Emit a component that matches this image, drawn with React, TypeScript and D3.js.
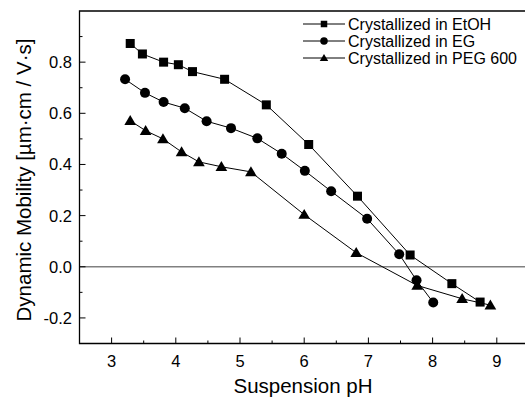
import React, { useEffect, useRef } from 'react';
import * as d3 from 'd3';

// Suspension pH / dynamic mobility
const etohPH = [3.29, 3.48, 3.81, 4.04, 4.26, 4.76, 5.41, 6.07, 6.83, 7.65, 8.30, 8.74];
const etohMob = [0.873, 0.832, 0.80, 0.79, 0.763, 0.733, 0.633, 0.478, 0.276, 0.046, -0.066, -0.138];

const egPH = [3.21, 3.52, 3.81, 4.14, 4.48, 4.86, 5.27, 5.65, 6.01, 6.42, 6.98, 7.48, 7.75, 8.01];
const egMob = [0.733, 0.68, 0.644, 0.62, 0.569, 0.542, 0.502, 0.442, 0.375, 0.295, 0.188, 0.049, -0.053, -0.14];

const pegPH = [3.29, 3.53, 3.80, 4.09, 4.36, 4.71, 5.17, 6.0, 6.81, 7.76, 8.46, 8.90];
const pegMob = [0.571, 0.532, 0.50, 0.449, 0.41, 0.391, 0.371, 0.204, 0.055, -0.073, -0.125, -0.15];

const seriesNames = ['Crystallized in EtOH', 'Crystallized in EG', 'Crystallized in PEG 600'];
const xTicks = [3, 4, 5, 6, 7, 8, 9];
const yTicks = [-0.2, 0.0, 0.2, 0.4, 0.6, 0.8];

const W = 525;
const H = 403;
const FONT = 'Liberation Sans, Arial, Helvetica, sans-serif';

export default function App() {
  const svgRef = useRef<SVGSVGElement>(null);

  useEffect(() => {
    if (!svgRef.current) return;
    const svg = d3.select(svgRef.current);
    svg.selectAll('*').remove();

    const left = 79.5;
    const top = 11;
    const bottom = 343.5;
    const x = d3.scaleLinear().domain([2.5, 9.5]).range([left, left + 7 * 64.2]);
    const y = d3.scaleLinear().domain([-0.3, 1.0]).range([bottom, top]);

    const g = svg.append('g');

    // zero line
    g.append('line')
      .attr('x1', left).attr('x2', W)
      .attr('y1', y(0)).attr('y2', y(0))
      .attr('stroke', '#808080').attr('stroke-width', 1.5);

    // frame (right side falls outside the picture)
    g.append('path')
      .attr('d', `M${W + 2},${top}H${left}V${bottom}H${W + 2}`)
      .attr('fill', 'none').attr('stroke', '#000').attr('stroke-width', 1.3);

    // x ticks (inward)
    d3.range(3, 9.51, 0.5).forEach(v => {
      const major = Number.isInteger(v);
      g.append('line')
        .attr('x1', x(v)).attr('x2', x(v))
        .attr('y1', bottom).attr('y2', bottom - (major ? 6 : 3))
        .attr('stroke', '#000').attr('stroke-width', 1);
    });
    g.selectAll('.xt').data(xTicks).enter().append('text')
      .attr('x', d => x(d)).attr('y', 367)
      .attr('text-anchor', 'middle')
      .attr('font-family', FONT).attr('font-size', 16.5)
      .text(d => String(d));

    // y ticks (inward)
    d3.range(-0.2, 0.951, 0.1).forEach(v => {
      const major = Math.abs(Math.round(v * 10) % 2) === 0;
      g.append('line')
        .attr('x1', left).attr('x2', left + (major ? 6 : 3))
        .attr('y1', y(v)).attr('y2', y(v))
        .attr('stroke', '#000').attr('stroke-width', 1);
    });
    g.selectAll('.yt').data(yTicks).enter().append('text')
      .attr('x', 72).attr('y', d => y(d))
      .attr('dy', '0.36em')
      .attr('text-anchor', 'end')
      .attr('font-family', FONT).attr('font-size', 16.5)
      .text(d => d.toFixed(1));

    // axis titles
    g.append('text')
      .attr('x', 303).attr('y', 393)
      .attr('text-anchor', 'middle')
      .attr('font-family', FONT).attr('font-size', 20.5)
      .text('Suspension pH');
    g.append('text')
      .attr('transform', `translate(31,180) rotate(-90)`)
      .attr('text-anchor', 'middle')
      .attr('font-family', FONT).attr('font-size', 20.5)
      .text('Dynamic Mobility [µm·cm / V·s]');

    const line = d3.line<[number, number]>().x(d => x(d[0])).y(d => y(d[1]));
    const sets: [number[], number[]][] = [[etohPH, etohMob], [egPH, egMob], [pegPH, pegMob]];
    const plot = svg.append('g');

    const drawMarker = (sel: any, kind: number, cx: number, cy: number, s: number) => {
      if (kind === 0) {
        sel.append('rect').attr('x', cx - s / 2).attr('y', cy - s / 2).attr('width', s).attr('height', s).attr('fill', '#000');
      } else if (kind === 1) {
        sel.append('circle').attr('cx', cx).attr('cy', cy).attr('r', s / 2 + 0.5).attr('fill', '#000');
      } else {
        const h = s * 1.05;
        const w = s * 1.3;
        sel.append('path')
          .attr('d', `M${cx},${cy - h * 0.6}L${cx + w / 2},${cy + h * 0.45}L${cx - w / 2},${cy + h * 0.45}Z`)
          .attr('fill', '#000');
      }
    };

    sets.forEach(([xs, ys], k) => {
      const pts = xs.map((v, i) => [v, ys[i]] as [number, number]);
      plot.append('path').datum(pts)
        .attr('d', line)
        .attr('fill', 'none').attr('stroke', '#000').attr('stroke-width', 1);
      const mg = plot.append('g');
      pts.forEach(p => drawMarker(mg, k, x(p[0]), y(p[1]), 9));
    });

    // legend
    const lg = svg.append('g');
    seriesNames.forEach((name, i) => {
      const cy = 24 + i * 17;
      lg.append('line').attr('x1', 303).attr('x2', 345).attr('y1', cy).attr('y2', cy)
        .attr('stroke', '#000').attr('stroke-width', 1);
      drawMarker(lg, i, 324, cy, 6.5);
      lg.append('text')
        .attr('x', 348).attr('y', cy).attr('dy', '0.36em')
        .attr('font-family', FONT).attr('font-size', 16)
        .text(name);
    });
  }, []);

  return (
    <svg
      ref={svgRef}
      width={W}
      height={H}
      style={{ position: 'absolute', left: 0, top: 0, background: '#fff', display: 'block' }}
    />
  );
}
